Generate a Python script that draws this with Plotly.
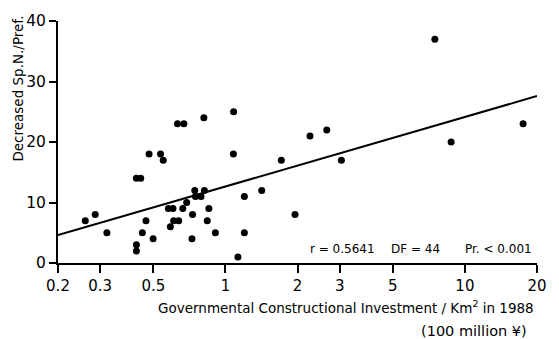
import numpy as np
import plotly.graph_objects as go

# Investment per km² (100 million yen) and decrease in species number per prefecture
investment = [0.260, 0.286, 0.320, 0.425, 0.425, 0.425, 0.443, 0.466, 0.450, 0.499,
              0.480, 0.536, 0.550, 0.631, 0.671, 0.813, 1.082, 1.080, 0.578, 0.604,
              0.608, 0.638, 0.589, 0.664, 0.689, 0.729, 0.725, 0.745, 0.750, 0.791,
              0.817, 0.853, 0.840, 0.908, 1.128, 1.200, 1.200, 1.418, 1.712, 1.953,
              2.256, 2.650, 3.050, 7.490, 8.760, 17.50]
decreased = [7, 8, 5, 2, 3, 14, 14, 7, 5, 4,
             18, 18, 17, 23, 23, 24, 25, 18, 9, 9,
             7, 7, 6, 9, 10, 8, 4, 12, 11, 11,
             12, 9, 7, 5, 1, 11, 5, 12, 17, 8,
             21, 22, 17, 37, 20, 23]

# Regression: y = intercept + slope * log10(x)
reg_intercept = 12.64
reg_slope = 11.5
reg_x = [0.2, 20]

x_ticks = [0.2, 0.3, 0.5, 1, 2, 3, 5, 10, 20]
x_tick_text = ["0.2", "0.3", "0.5", "1", "2", "3", "5", "10", "20"]
y_ticks = [0, 10, 20, 30, 40]

stats_labels = ["r = 0.5641", "DF = 44", "Pr. < 0.001"]

FONT = "DejaVu Sans"

fig = go.Figure()
fig.add_trace(go.Scatter(
    x=reg_x,
    y=[reg_intercept + reg_slope * np.log10(v) for v in reg_x],
    mode="lines", line=dict(color="black", width=2), hoverinfo="skip",
))
fig.add_trace(go.Scatter(
    x=investment, y=decreased, mode="markers",
    marker=dict(color="black", size=7),
))

fig.update_layout(
    width=559, height=339,
    margin=dict(l=58, r=12, t=17, b=76),
    paper_bgcolor="white", plot_bgcolor="white",
    showlegend=False,
    font=dict(family=FONT, color="black"),
)
fig.update_xaxes(
    type="log", range=[np.log10(0.2), np.log10(20)],
    tickvals=x_ticks, ticktext=x_tick_text,
    showgrid=False, zeroline=False,
    showline=True, linecolor="black", linewidth=2,
    ticks="outside", ticklen=8, tickwidth=2, tickcolor="black",
    tickfont=dict(size=15, family=FONT),
)
fig.update_yaxes(
    range=[0, 40], tickvals=y_ticks,
    showgrid=False, zeroline=False,
    showline=True, linecolor="black", linewidth=2,
    ticks="outside", ticklen=7, tickwidth=2, tickcolor="black",
    tickfont=dict(size=15.5, family=FONT),
)

# Statistics line inside the plot
for label, xp in zip(stats_labels, [0.5215, 0.691, 0.845]):
    fig.add_annotation(text=label, xref="paper", yref="paper", x=xp, y=0.058,
                       xanchor="left", yanchor="middle", showarrow=False,
                       font=dict(size=12, family=FONT))

# Axis titles
fig.add_annotation(text="Governmental Constructional Investment / Km<sup>2</sup> in 1988",
                   xref="paper", yref="paper", x=0.998, y=-0.182,
                   xanchor="right", yanchor="middle", showarrow=False,
                   font=dict(size=13.5, family=FONT))
fig.add_annotation(text="(100 million ¥)",
                   xref="paper", yref="paper", x=0.984, y=-0.283,
                   xanchor="right", yanchor="middle", showarrow=False,
                   font=dict(size=14.5, family=FONT))
fig.add_annotation(text="Decreased Sp.N./Pref.",
                   xref="paper", yref="paper", x=-0.0838, y=0.72,
                   xanchor="center", yanchor="middle", textangle=-90,
                   showarrow=False, font=dict(size=13.5, family=FONT))

fig.write_html("out.html")
